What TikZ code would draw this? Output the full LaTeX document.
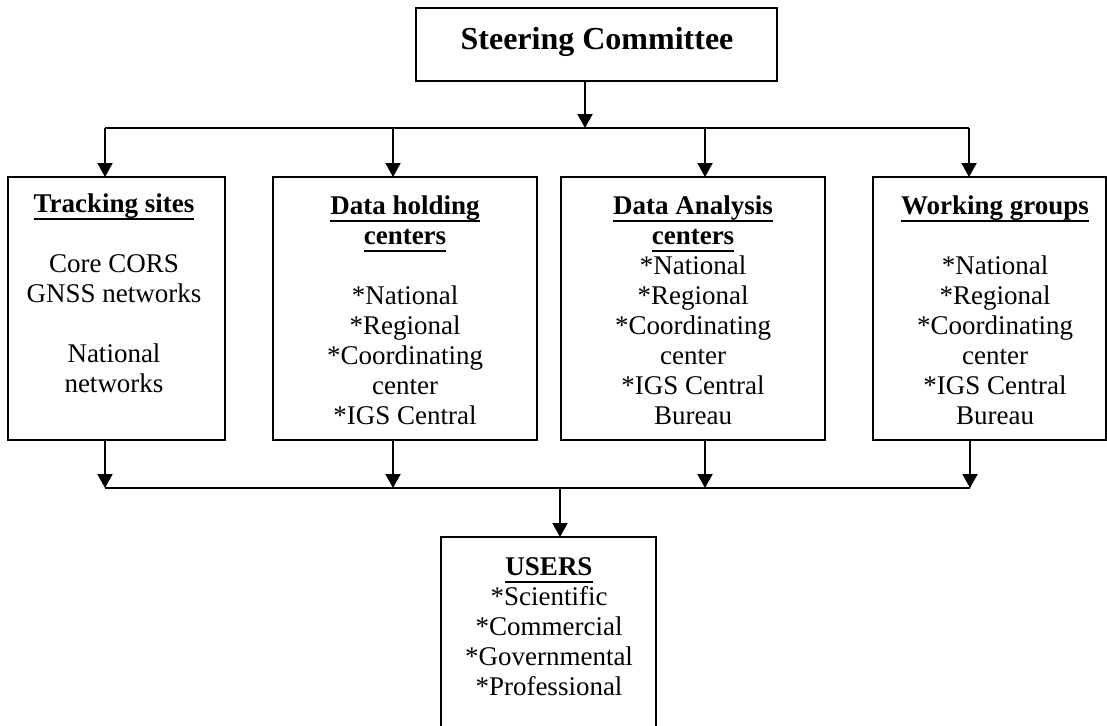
\documentclass[tikz,border=0pt]{standalone}
\usepackage{fontspec}
\setmainfont{Liberation Serif}
\usetikzlibrary{arrows.meta}
% bold heading with a heavy underline set below the descenders
\newcommand{\hul}[1]{\leavevmode\setbox0=\hbox{\bfseries #1}\rlap{\rule[-7.5pt]{\wd0}{2pt}}\box0}
\begin{document}
\begin{tikzpicture}[x=1pt,y=-1pt,
  box/.style={draw,line width=2pt,inner sep=0pt,outer sep=0pt},
  txt/.style={align=center,inner sep=0pt,font=\fontsize{27}{30}\selectfont,anchor=base},
  link/.style={line width=2pt},
  arr/.style={line width=2pt,-{Triangle[width=15pt,length=14pt]}}]
\useasboundingbox (0,0) rectangle (1107,725);
\clip (0,0) rectangle (1107,725);

% boxes
\node[box,minimum width=361pt,minimum height=73pt] (steer) at (596.5,44.5) {};
\node[box,minimum width=217pt,minimum height=263pt] (track) at (116.5,308.5) {};
\node[box,minimum width=264pt,minimum height=263pt] (hold) at (405,308.5) {};
\node[box,minimum width=264pt,minimum height=263pt] (anal) at (693,308.5) {};
\node[box,minimum width=233pt,minimum height=263pt] (work) at (989.5,308.5) {};
\node[box,minimum width=215pt,minimum height=240pt] (users) at (548.5,657) {};

% texts (anchored on the baseline of their last line)
\node[txt,font=\fontsize{32}{36}\selectfont\bfseries] (steert) at (597,50) {Steering Committee};
\node[txt] (trackt) at (114,392) {\hul{Tracking sites}\\[30pt] Core CORS\\ GNSS networks\\[30pt] National\\ networks};
\node[txt] (holdt) at (405,424) {\hul{Data holding}\\ \hul{centers}\\[30pt] *National\\ *Regional\\ *Coordinating\\ center\\ *IGS Central};
\node[txt] (analt) at (693,424) {\hul{Data Analysis}\\ \hul{centers}\\ *National\\ *Regional\\ *Coordinating\\ center\\ *IGS Central\\ Bureau};
\node[txt] (workt) at (995,424) {\hul{Working groups}\\[30pt] *National\\ *Regional\\ *Coordinating\\ center\\ *IGS Central\\ Bureau};
\node[txt] (userst) at (549,695) {\hul{USERS}\\ *Scientific\\ *Commercial\\ *Governmental\\ *Professional};

% distribution bus below the committee
\coordinate (s0) at (585,128);
\coordinate (b1) at (105,128);
\coordinate (b2) at (393,128);
\coordinate (b3) at (705,128);
\coordinate (b4) at (969,128);
\draw[link] (b1) -- (b4);
\draw[arr] (s0 |- steer.south) -- (s0);
\draw[arr] (b1) -- (b1 |- track.north);
\draw[arr] (b2) -- (b2 |- hold.north);
\draw[arr] (b3) -- (b3 |- anal.north);
\draw[arr] (b4) -- (b4 |- work.north);

% collecting bus towards the users
\coordinate (d1) at (105,488);
\coordinate (d2) at (393,488);
\coordinate (d3) at (705,488);
\coordinate (d4) at (970,488);
\coordinate (u0) at (560,488);
\draw[link] (d1) -- (d4);
\draw[arr] (d1 |- track.south) -- (d1);
\draw[arr] (d2 |- hold.south) -- (d2);
\draw[arr] (d3 |- anal.south) -- (d3);
\draw[arr] (d4 |- work.south) -- (d4);
\draw[arr] (u0) -- (u0 |- users.north);
\end{tikzpicture}
\end{document}
